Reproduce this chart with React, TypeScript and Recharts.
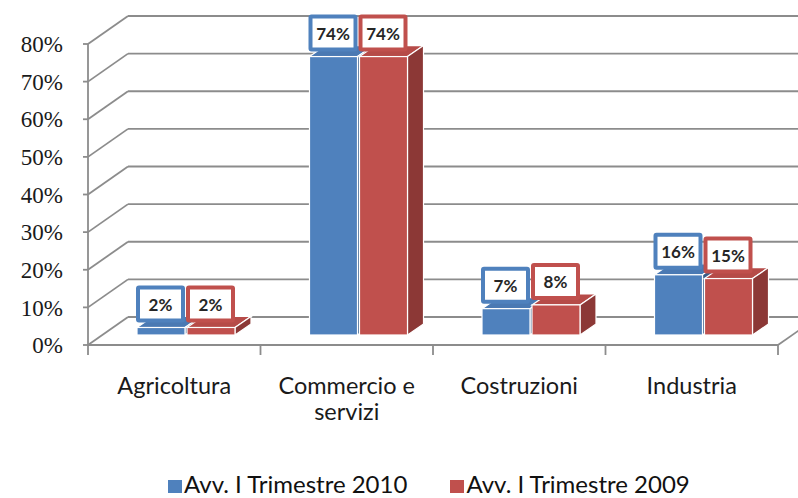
import React from 'react';
import { BarChart, Bar, XAxis, YAxis, CartesianGrid, Legend, LabelList } from 'recharts';

// ---- data ----
const categories = ['Agricoltura', 'Commercio e servizi', 'Costruzioni', 'Industria'];
const series2010 = [2, 74, 7, 16];
const series2009 = [2, 74, 8, 15];
const seriesNames = ['Avv. I Trimestre 2010', 'Avv. I Trimestre 2009'];
const yTicks = [0, 10, 20, 30, 40, 50, 60, 70, 80];

const data = categories.map((c, i) => ({ name: c, a: series2010[i], b: series2009[i] }));

// ---- layout / style constants ----
const W = 798;
const H = 498;
const MARGIN = { top: 44, right: 20, bottom: 93, left: 0 };
const Y_W = 88;
const X_H = 60;
const PLOT_W = W - MARGIN.left - MARGIN.right - Y_W;
const BAND = PLOT_W / categories.length;
const WALL_DX = 40;
const WALL_DY = -28;
const BAR_DX = 12;
const BAR_DY = -10;
const D_DX = 16;
const D_DY = -11;
const GRID = '#8c8c8c';
const BLUE = { front: '#4F81BD', top: '#4A79B3', side: '#385D8A' };
const RED = { front: '#C0504D', top: '#B64B48', side: '#8C3836' };
const SANS = 'Lato, "Open Sans", sans-serif';
const MAX_LINE_CHARS = 12;

const wrapLabel = (s: string): string[] => {
  const words = s.split(' ');
  const lines: string[] = [];
  let cur = '';
  for (const w of words) {
    const next = cur ? `${cur} ${w}` : w;
    if (next.length > MAX_LINE_CHARS && cur) {
      lines.push(cur);
      cur = w;
    } else {
      cur = next;
    }
  }
  if (cur) lines.push(cur);
  return lines;
};

const renderHLine = (p: any) => {
  const { x1, y1, x2, index } = p;
  const isFloor = Math.abs(y1 - (H - MARGIN.bottom - X_H)) < 0.5;
  return (
    <g key={`h-${index}`}>
      <line x1={x1} y1={y1} x2={x1 + WALL_DX} y2={y1 + WALL_DY} stroke={GRID} strokeWidth={1.8} />
      <line x1={x1 + WALL_DX} y1={y1 + WALL_DY} x2={x2 + WALL_DX} y2={y1 + WALL_DY} stroke={GRID} strokeWidth={1.8} />
      {isFloor && (
        <line x1={x2} y1={y1} x2={x2 + WALL_DX} y2={y1 + WALL_DY} stroke={GRID} strokeWidth={1.8} />
      )}
    </g>
  );
};

const make3DBar = (c: { front: string; top: string; side: string }) => (props: any) => {
  const { x, y, width, height } = props;
  const h = Math.max(0, height);
  const fx = x + BAR_DX;
  const fy = y + BAR_DY;
  return (
    <g>
      <polygon
        points={`${fx},${fy} ${fx + D_DX},${fy + D_DY} ${fx + width + D_DX},${fy + D_DY} ${fx + width},${fy}`}
        fill={c.top}
        stroke="#fff"
        strokeWidth={1.2}
      />
      <polygon
        points={`${fx + width},${fy} ${fx + width + D_DX},${fy + D_DY} ${fx + width + D_DX},${fy + h + D_DY} ${fx + width},${fy + h}`}
        fill={c.side}
        stroke="#fff"
        strokeWidth={1.2}
      />
      <rect x={fx} y={fy} width={width} height={h} fill={c.front} stroke="#fff" strokeWidth={1.2} />
    </g>
  );
};

const makeLabel = (color: string) => (props: any) => {
  const { x, y, width, value } = props;
  const bx = x + BAR_DX - 1;
  const by = y + BAR_DY - 42;
  return (
    <g>
      <rect x={bx + 2} y={by + 2} width={width - 3} height={33} fill="#fff" stroke={color} strokeWidth={4} rx={1} />
      <text
        x={bx + (width + 1) / 2}
        y={by + 19}
        textAnchor="middle"
        dominantBaseline="central"
        fontFamily={SANS}
        fontWeight={700}
        fontSize={17}
        fill="#262626"
      >
        {`${value}%`}
      </text>
    </g>
  );
};

const XTick = (props: any) => {
  const { x, y, payload, index } = props;
  const lines = wrapLabel(String(payload.value));
  return (
    <g>
      <line x1={x - BAND / 2} y1={y} x2={x - BAND / 2} y2={y + 10} stroke={GRID} strokeWidth={1.8} />
      {index === categories.length - 1 && (
        <line x1={x + BAND / 2} y1={y} x2={x + BAND / 2} y2={y + 10} stroke={GRID} strokeWidth={1.8} />
      )}
      {lines.map((l, i) => (
        <text
          key={i}
          x={x}
          y={y + 49 + i * 26}
          textAnchor="middle"
          fontFamily={SANS}
          fontSize={23.5}
          fill="#1a1a1a"
        >
          {l}
        </text>
      ))}
    </g>
  );
};

const LegendContent = () => (
  <div
    style={{
      display: 'flex',
      justifyContent: 'flex-start',
      alignItems: 'center',
      paddingLeft: 168,
      gap: 43,
      fontFamily: SANS,
      fontSize: 24,
      lineHeight: '20px',
      color: '#111',
    }}
  >
    {seriesNames.map((n, i) => (
      <div key={n} style={{ display: 'flex', alignItems: 'center' }}>
        <span
          style={{
            display: 'inline-block',
            width: 14,
            height: 13,
            marginTop: 5,
            background: i === 0 ? BLUE.front : RED.front,
            marginRight: 2,
          }}
        />
        <span>{n}</span>
      </div>
    ))}
  </div>
);

export default function App() {
  return (
    <div style={{ position: 'absolute', left: 0, top: 0, width: W, height: H, background: '#fff' }}>
      <BarChart width={W} height={H} data={data} margin={MARGIN} barCategoryGap={37} barGap={2}>
        <CartesianGrid horizontal={renderHLine} vertical={false} />
        <YAxis
          width={Y_W}
          domain={[0, 80]}
          ticks={yTicks}
          interval={0}
          tickFormatter={(v: number) => `${v}%`}
          axisLine={{ stroke: GRID, strokeWidth: 1.8 }}
          tickLine={{ stroke: GRID, strokeWidth: 1.8 }}
          tickSize={5}
          tickMargin={20}
          tick={{ fill: '#1a1a1a', fontSize: 23, fontFamily: '"Liberation Serif", serif' }}
        />
        <XAxis
          dataKey="name"
          height={X_H}
          axisLine={{ stroke: GRID, strokeWidth: 1.8 }}
          tickLine={false}
          tickSize={0}
          tickMargin={0}
          interval={0}
          tick={<XTick />}
        />
        <Bar dataKey="a" name={seriesNames[0]} fill={BLUE.front} shape={make3DBar(BLUE)} isAnimationActive={false}>
          <LabelList dataKey="a" content={makeLabel(BLUE.front)} />
        </Bar>
        <Bar dataKey="b" name={seriesNames[1]} fill={RED.front} shape={make3DBar(RED)} isAnimationActive={false}>
          <LabelList dataKey="b" content={makeLabel(RED.front)} />
        </Bar>
        <Legend
          layout="horizontal"
          verticalAlign="middle"
          align="center"
          content={<LegendContent />}
          wrapperStyle={{ top: 474, left: 0, width: W, height: 20 }}
        />
      </BarChart>
    </div>
  );
}
